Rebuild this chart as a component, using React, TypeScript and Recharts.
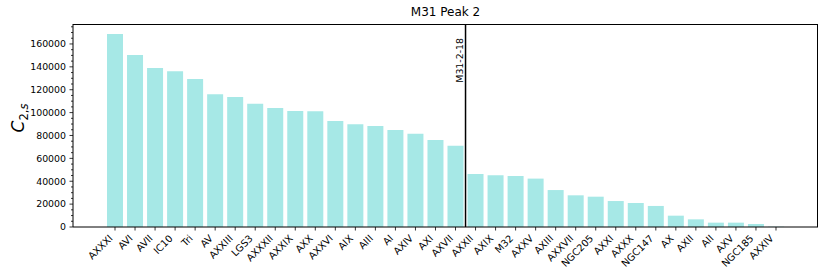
import { BarChart, Bar, XAxis, YAxis, ReferenceLine } from "recharts"

const categories = [
  "AXXXI", "AVI", "AVII", "IC10", "Tri", "AV", "AXXIII", "LGS3", "AXXXII", "AXXIX",
  "AXX", "AXXVI", "AIX", "AIII", "AI", "AXIV", "AXI", "AXVII", "AXXII", "AXIX",
  "M32", "AXXV", "AXIII", "AXXVII", "NGC205", "AXXI", "AXXX", "NGC147", "AX", "AXII",
  "AII", "AXV", "NGC185", "AXXIV",
]

const values = [
  168700, 150400, 139000, 136100, 129400, 116000, 113700, 107800, 104000, 101400,
  101200, 92700, 89800, 88300, 84800, 81600, 76100, 71100, 46300, 45200,
  44600, 42300, 32300, 27700, 26500, 22700, 21000, 18400, 9900, 6700,
  3800, 3800, 2600, 300,
]

const majorTicks = [0, 20000, 40000, 60000, 80000, 100000, 120000, 140000, 160000]
const minorTicks = [
  5000, 10000, 15000, 25000, 30000, 35000, 45000, 50000, 55000, 65000, 70000, 75000,
  85000, 90000, 95000, 105000, 110000, 115000, 125000, 130000, 135000, 145000, 150000,
  155000, 165000, 170000, 175000,
]

const markerName = "M31-2-18"
const markerAfter = "AXVII"

const data = categories.map((name, i) => ({ name, value: values[i] }))
const yTicks = [...majorTicks, ...minorTicks].sort((a, b) => a - b)

const FONT = "DejaVu Sans"

const XTick = (props: any) => {
  const { x, y, payload } = props
  return (
    <g transform={`translate(${x - 1.7},${y + 6.5})`}>
      <text transform="rotate(-45)" textAnchor="end" fontSize={9.8} fontFamily={FONT} fill="#000">
        {payload.value}
      </text>
    </g>
  )
}

const YTick = (props: any) => {
  const { x, y, payload } = props
  const ax = x + 7
  const major = majorTicks.includes(payload.value)
  return (
    <g>
      <line x1={ax - (major ? 3.5 : 2)} x2={ax} y1={y} y2={y} stroke="#000" strokeWidth={0.8} />
      {major && (
        <text x={x} y={y} dy="0.35em" textAnchor="end" fontSize={9.4} fontFamily={FONT} fill="#000">
          {payload.value}
        </text>
      )}
    </g>
  )
}

const MarkerLabel = (props: any) => {
  const vb = props.viewBox
  const lx = vb.x - 2.5
  const ly = vb.y + 14
  return (
    <text
      x={lx}
      y={ly}
      transform={`rotate(-90, ${lx}, ${ly})`}
      textAnchor="end"
      fontSize={9.4}
      fontFamily={FONT}
      fill="#000"
    >
      {markerName}
    </text>
  )
}

export default function App() {
  return (
    <div style={{ position: "absolute", left: 0, top: 0, width: 830, height: 277, background: "#fff" }}>
      <div
        style={{
          position: "absolute",
          left: 73,
          width: 745,
          top: 5,
          textAlign: "center",
          fontFamily: FONT,
          fontSize: 12,
          lineHeight: "14px",
        }}
      >
        M31 Peak 2
      </div>
      <div
        style={{
          position: "absolute",
          left: 19,
          top: 118,
          transform: "translate(-50%, -50%) rotate(-90deg)",
          fontFamily: FONT,
          whiteSpace: "nowrap",
          lineHeight: "18px",
        }}
      >
        <span style={{ fontStyle: "italic", fontSize: 17 }}>C</span>
        <span style={{ fontSize: 11.5, position: "relative", top: 4 }}>
          2,<i>s</i>
        </span>
      </div>
      <BarChart
        width={830}
        height={277}
        data={data}
        margin={{ top: 24, right: 12, bottom: 0, left: 0 }}
        barCategoryGap="10%"
      >
        <XAxis
          dataKey="name"
          interval={0}
          height={50}
          padding={{ left: 32, right: 32 }}
          tickSize={3.5}
          tick={<XTick />}
          tickLine={{ stroke: "#000", strokeWidth: 0.8 }}
          axisLine={{ stroke: "#000", strokeWidth: 1 }}
        />
        <YAxis
          width={73}
          domain={[0, 177450]}
          ticks={yTicks}
          interval={0}
          tickSize={3.5}
          tickMargin={3.5}
          tickLine={false}
          tick={<YTick />}
          axisLine={{ stroke: "#000", strokeWidth: 1 }}
        />
        <Bar dataKey="value" fill="#a6e8e6" isAnimationActive={false} />
        <ReferenceLine
          x={markerAfter}
          position="end"
          stroke="#000"
          strokeWidth={1.5}
          label={{ content: <MarkerLabel /> }}
        />
      </BarChart>
      <div
        style={{
          position: "absolute",
          left: 73,
          top: 23.5,
          width: 745,
          height: 203,
          borderTop: "1px solid #000",
          borderRight: "1px solid #000",
          boxSizing: "border-box",
          pointerEvents: "none",
        }}
      />
    </div>
  )
}
